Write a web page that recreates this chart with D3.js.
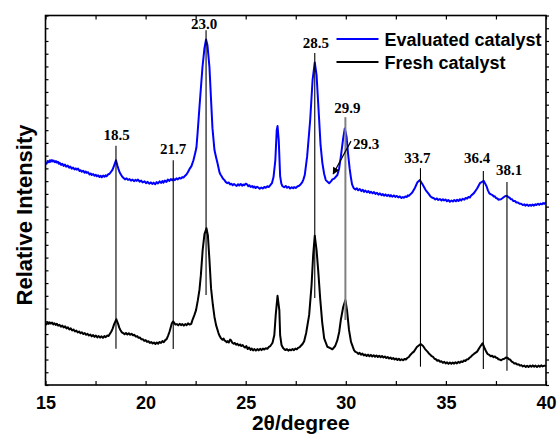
<!DOCTYPE html>
<meta charset="utf-8">
<style>
body { margin: 0; background: #fff; }
text { font-family: "Liberation Sans", Arial, sans-serif; }
.axis .domain { display: none; }
.axis line { stroke: #000; stroke-width: 1.2; }
.axis text { font-size: 18px; font-weight: bold; fill: #000; }
.peak { font-family: "Liberation Serif", "Times New Roman", serif; font-weight: bold; font-size: 15px; }
</style>
<svg width="558" height="435"></svg>
<script src="https://d3js.org/d3.v7.min.js"></script>
<script>

// 2theta (degree), relative intensity (noise included)
var evaluated = [[15.00,873],[15.05,868],[15.11,879],[15.17,874],[15.22,882],[15.26,876],[15.32,883],[15.37,877],[15.41,881],[15.47,874],[15.52,879],[15.56,873],[15.62,876],[15.67,868],[15.71,872],[15.78,864],[15.84,868],[15.91,860],[15.97,865],[16.03,857],[16.11,861],[16.18,853],[16.24,857],[16.31,849],[16.38,853],[16.45,846],[16.51,850],[16.56,845],[16.63,849],[16.70,840],[16.76,843],[16.81,837],[16.88,841],[16.95,833],[17.01,838],[17.06,832],[17.13,835],[17.20,826],[17.26,830],[17.31,824],[17.38,828],[17.45,821],[17.51,825],[17.56,819],[17.63,823],[17.70,816],[17.76,821],[17.81,815],[17.88,822],[17.95,817],[18.00,823],[18.05,819],[18.12,826],[18.20,829],[18.27,836],[18.35,845],[18.43,862],[18.52,882],
  [18.60,859],[18.65,846],[18.70,835],[18.78,824],[18.85,816],[18.90,812],[18.97,807],[19.05,811],[19.12,805],[19.20,808],[19.27,802],[19.35,806],[19.42,800],[19.50,805],[19.55,801],[19.62,806],[19.70,798],[19.78,802],[19.85,795],[19.95,799],[20.02,792],[20.10,797],[20.18,790],[20.26,795],[20.33,789],[20.40,794],[20.48,788],[20.55,796],[20.62,791],[20.70,799],[20.77,793],[20.84,800],[20.89,794],[20.96,802],[21.04,797],[21.11,806],[21.19,801],[21.26,808],[21.33,803],[21.39,809],[21.46,804],[21.54,811],[21.61,807],[21.69,813],[21.76,810],[21.83,816],[21.89,814],[21.96,820],[22.04,826],[22.11,835],[22.19,847],
  [22.29,859],[22.39,882],[22.49,914],[22.54,933],[22.60,992],[22.69,1090],[22.84,1247],[22.94,1322],[23.02,1356],[23.09,1333],[23.19,1247],[23.27,1118],[23.34,1008],[23.44,922],[23.52,894],[23.59,871],
  [23.69,835],[23.74,826],[23.79,820],[23.86,810],[23.94,804],[24.00,797],[24.08,792],[24.15,795],[24.22,787],[24.28,790],[24.35,784],[24.42,789],[24.48,785],[24.55,781],[24.62,788],[24.68,783],[24.75,789],[24.82,782],[24.88,787],[24.93,784],[25.00,790],[25.08,786],[25.13,780],[25.18,784],[25.25,777],[25.32,781],[25.38,775],[25.43,779],[25.50,773],[25.57,778],[25.63,775],[25.70,770],[25.78,775],[25.85,771],[25.93,777],[26.00,774],[26.08,780],[26.16,777],[26.23,784],[26.31,792],[26.39,816],
  [26.48,882],[26.55,1000],[26.59,1016],[26.65,961],
  [26.72,820],[26.78,790],[26.84,780],[26.92,776],[27.00,781],[27.07,774],[27.15,778],[27.22,771],[27.30,776],[27.37,772],[27.42,777],[27.50,773],[27.58,779],[27.67,782],[27.75,788],[27.82,795],[27.88,806],[27.95,824],
  [28.07,898],[28.22,1039],[28.34,1196],[28.45,1266],[28.54,1216],[28.67,1039],[28.74,941],[28.83,871],[28.92,828],[29.00,804],[29.17,792],[29.27,800],[29.33,807],[29.42,810],[29.58,824],[29.67,851],[29.75,895],[29.87,969],[29.95,1007],[30.04,973],[30.11,910],[30.19,851],[30.25,817],
  [30.31,788],[30.36,778],[30.41,771],[30.48,767],[30.55,772],[30.62,764],[30.70,769],[30.78,761],[30.85,766],[30.91,758],[30.98,763],[31.06,756],[31.13,761],[31.20,754],[31.26,758],[31.34,752],[31.41,757],[31.48,750],[31.56,754],[31.63,747],[31.70,752],[31.78,745],[31.85,749],[31.91,743],[31.98,748],[32.06,742],[32.13,746],[32.20,740],[32.25,745],[32.32,739],[32.40,744],[32.47,738],[32.55,742],[32.62,736],[32.70,740],[32.78,734],[32.85,738],[32.90,735],[32.97,740],[33.05,738],[33.10,744],[33.15,742],[33.22,748],[33.32,755],
  [33.45,773],[33.58,796],[33.70,804],[33.83,788],[33.99,765],
  [34.15,749],[34.22,741],[34.30,736],[34.40,733],[34.47,728],[34.55,732],[34.62,726],[34.70,730],[34.78,724],[34.85,729],[34.90,724],[34.98,728],[35.05,721],[35.12,726],[35.20,719],[35.28,724],[35.35,720],[35.42,726],[35.50,721],[35.56,727],[35.63,722],[35.70,729],[35.77,724],[35.84,731],[35.92,727],[35.99,734],[36.06,731],[36.13,738],[36.20,736],[36.25,743],
  [36.40,753],[36.56,771],[36.70,792],[36.89,801],
  [37.03,780],[37.10,764],[37.17,752],[37.25,748],[37.33,745],[37.38,740],[37.43,741],[37.50,734],[37.57,732],[37.62,727],[37.67,728],[37.75,729],[37.82,733],[37.87,736],[37.92,739],[38.00,742],[38.06,742],[38.12,737],[38.17,736],[38.24,729],[38.30,729],[38.37,722],[38.45,722],[38.52,716],[38.60,716],[38.68,711],[38.76,711],[38.84,706],[38.92,709],[38.97,704],[39.05,708],[39.12,703],[39.20,707],[39.26,703],[39.33,708],[39.40,704],[39.47,709],[39.52,706],[39.60,711],[39.66,707],[39.72,712],[39.80,709],[39.86,714],[39.92,711],[40.00,717]];

var fresh = [[15.00,242],[15.05,238],[15.10,245],[15.16,240],[15.21,246],[15.27,241],[15.33,245],[15.39,238],[15.45,242],[15.51,236],[15.57,240],[15.63,233],[15.70,236],[15.77,229],[15.84,233],[15.91,226],[15.98,230],[16.05,222],[16.12,226],[16.19,218],[16.26,222],[16.33,214],[16.40,218],[16.47,210],[16.54,214],[16.61,206],[16.68,210],[16.75,203],[16.82,207],[16.89,200],[16.96,204],[17.03,197],[17.10,201],[17.17,194],[17.24,198],[17.31,191],[17.38,196],[17.45,189],[17.52,194],[17.59,187],[17.66,192],[17.73,186],[17.80,191],[17.87,185],[17.94,192],[18.01,188],[18.08,194],[18.15,192],[18.22,201],[18.29,210],[18.35,220],[18.43,239],[18.54,258],
  [18.63,239],[18.68,226],[18.74,216],[18.81,207],[18.88,204],[18.95,199],[19.02,204],[19.09,198],[19.16,203],[19.23,197],[19.30,201],[19.37,195],[19.44,197],[19.51,190],[19.58,192],[19.65,185],[19.72,186],[19.79,179],[19.86,180],[19.93,173],[20.00,176],[20.07,169],[20.14,172],[20.21,165],[20.28,169],[20.35,163],[20.42,167],[20.49,161],[20.56,167],[20.63,162],[20.70,169],[20.77,165],[20.84,172],[20.91,168],[20.98,176],[21.05,180],[21.12,193],[21.19,208],[21.26,228],[21.31,242],[21.37,249],[21.42,245],[21.49,237],[21.56,239],[21.63,234],[21.70,240],[21.77,235],[21.84,239],[21.91,233],[21.98,239],[22.05,235],[22.12,242],[22.20,237],[22.28,240],
  [22.34,255],[22.44,275],[22.52,294],[22.61,333],[22.69,373],[22.76,431],[22.85,529],[22.94,592],[23.04,615],[23.11,588],[23.19,490],[23.27,379],[23.36,314],[23.44,267],[23.52,235],
  [23.64,204],[23.70,192],[23.77,183],[23.84,178],[23.90,182],[23.94,175],[24.00,172],[24.05,168],[24.10,172],[24.16,167],[24.22,178],[24.27,175],[24.33,166],[24.40,162],[24.46,165],[24.52,158],[24.58,162],[24.65,155],[24.72,159],[24.78,153],[24.85,157],[24.91,150],[24.97,147],[25.03,153],[25.10,141],[25.17,147],[25.24,138],[25.30,143],[25.37,136],[25.44,141],[25.51,135],[25.58,141],[25.65,136],[25.72,142],[25.79,137],[25.86,143],[25.93,139],[26.00,144],[26.08,142],[26.16,150],[26.23,153],[26.30,161],[26.34,166],
  [26.43,196],[26.50,275],[26.59,350],[26.68,294],[26.72,196],
  [26.79,157],[26.86,146],[26.92,141],[26.99,137],[27.06,141],[27.13,135],[27.20,139],[27.27,136],[27.34,141],[27.41,137],[27.48,143],[27.55,140],[27.62,146],[27.70,149],[27.77,155],[27.84,161],[27.92,172],
  [28.02,204],[28.17,275],[28.29,392],[28.37,510],[28.45,586],[28.54,529],[28.62,451],[28.72,340],[28.82,247],[28.92,183],[29.08,150],[29.25,144],[29.33,140],[29.47,153],[29.58,176],[29.67,208],[29.75,255],[29.87,306],[29.98,333],[30.06,294],[30.16,216],[30.26,169],
  [30.41,137],[30.48,130],[30.55,128],[30.62,122],[30.69,126],[30.76,119],[30.83,123],[30.90,116],[30.97,120],[31.04,114],[31.11,119],[31.18,113],[31.25,118],[31.32,112],[31.39,117],[31.46,111],[31.53,116],[31.60,110],[31.67,115],[31.74,109],[31.81,114],[31.88,108],[31.95,112],[32.02,106],[32.09,110],[32.16,104],[32.23,108],[32.30,102],[32.37,106],[32.44,100],[32.51,104],[32.58,98],[32.65,103],[32.72,97],[32.79,101],[32.86,97],[32.93,102],[33.00,100],[33.07,106],[33.15,110],[33.22,118],[33.32,126],
  [33.40,131],[33.55,149],[33.74,161],[33.86,153],[33.96,141],
  [34.08,131],[34.15,124],[34.22,119],[34.29,113],[34.36,110],[34.43,103],[34.50,101],[34.57,95],[34.64,97],[34.71,91],[34.78,93],[34.85,87],[34.92,91],[34.99,85],[35.06,89],[35.13,83],[35.20,88],[35.27,83],[35.34,88],[35.41,84],[35.48,89],[35.55,85],[35.62,91],[35.69,87],[35.76,93],[35.83,90],[35.90,96],[35.97,94],[36.04,100],[36.11,101],[36.18,107],[36.25,111],[36.32,117],[36.40,122],
  [36.56,131],[36.70,149],[36.83,164],
  [36.95,141],[37.02,130],[37.09,121],[37.17,118],[37.24,113],[37.31,115],[37.38,109],[37.45,112],[37.51,107],[37.57,106],[37.62,101],[37.69,100],[37.76,97],[37.83,101],[37.92,103],[38.00,108],[38.09,106],[38.15,101],[38.22,99],[38.29,92],[38.36,89],[38.42,84],[38.49,85],[38.56,80],[38.63,81],[38.70,76],[38.77,78],[38.84,73],[38.92,76],[38.99,71],[39.06,75],[39.13,71],[39.20,76],[39.27,72],[39.34,77],[39.41,72],[39.48,76],[39.55,71],[39.62,76],[39.69,72],[39.76,77],[39.83,73],[39.92,76],[40.00,74]];

// peak markers
var peakLabels = ["18.5", "21.7", "23.0", "28.5", "29.9", "33.7", "36.4", "38.1"];
var peakLineTheta = [18.52, 21.38, 23.02, 28.45, 29.98, 33.73, 36.87, 38.05];
var peakLineTop = [939, 882, 1392, 1303, 1051, 851, 840, 797];
var peakLineBottom = [142, 141, 353, 341, 255, 72, 63, 56];
var peakLabelAt = [[18.55, 961], [21.38, 906], [22.92, 1398], [28.50, 1321], [30.08, 1066], [33.57, 873], [36.56, 870], [38.16, 824]];
// shoulder at 29.3 marked with an arrow
var arrowLabel = "29.3";
var arrowFrom = [30.26, 957], arrowTo = [29.37, 828], arrowLabelAt = [30.36, 928];

var xTicks = d3.range(15, 40.01, 2.5);
var yTicks = d3.range(0, 1451, 50);
var seriesNames = ["Evaluated catalyst", "Fresh catalyst"];
var seriesColors = ["#0000ff", "#000000"];

var svg = d3.select("svg"),
    margin = {top: 15.5, right: 12, bottom: 50, left: 45.5},
    width = +svg.attr("width") - margin.left - margin.right,
    height = +svg.attr("height") - margin.top - margin.bottom,
    g = svg.append("g").attr("transform", "translate(" + margin.left + "," + margin.top + ")");

var x = d3.scaleLinear().domain([15, 40]).range([0, width]);
var y = d3.scaleLinear().domain([0, 1450]).range([height, 0]);

g.append("clipPath").attr("id", "clip")
  .append("rect").attr("width", width).attr("height", height);

var line = d3.line()
    .x(function(d) { return x(d[0]); })
    .y(function(d) { return y(d[1]); });

[evaluated, fresh].forEach(function(s, i) {
  g.append("path")
      .datum(s)
      .attr("clip-path", "url(#clip)")
      .attr("fill", "none")
      .attr("stroke", seriesColors[i])
      .attr("stroke-width", 2)
      .attr("stroke-linejoin", "round")
      .attr("d", line);
});

// axes
g.append("g")
    .attr("class", "axis")
    .attr("transform", "translate(0," + height + ")")
    .call(d3.axisBottom(x).tickValues(xTicks).tickSizeInner(-4).tickSizeOuter(0)
      .tickFormat(function(d) { return d % 5 === 0 ? d : ""; }))
  .selectAll("text")
    .attr("y", 11).attr("dy", "0.71em");

g.append("g")
    .attr("class", "axis")
    .call(d3.axisTop(x).tickValues(xTicks).tickSizeInner(-4).tickSizeOuter(0).tickFormat(""));

g.append("g")
    .attr("class", "axis")
    .call(d3.axisLeft(y).tickValues(yTicks).tickSizeInner(-3).tickSizeOuter(0).tickFormat(""));

g.append("g")
    .attr("class", "axis")
    .attr("transform", "translate(" + width + ",0)")
    .call(d3.axisRight(y).tickValues(yTicks).tickSizeInner(3).tickSizeOuter(0).tickFormat(""));

g.append("rect")
    .attr("width", width)
    .attr("height", height)
    .attr("fill", "none")
    .attr("stroke", "#000")
    .attr("stroke-width", 1.6);

// peak lines and labels
peakLabels.forEach(function(lab, i) {
  g.append("line")
      .attr("x1", x(peakLineTheta[i])).attr("x2", x(peakLineTheta[i]))
      .attr("y1", y(peakLineTop[i])).attr("y2", y(peakLineBottom[i]))
      .attr("stroke", lab === "29.9" ? "#808080" : "#000")
      .attr("stroke-width", lab === "29.9" ? 2 : 1.1);
  g.append("text")
      .attr("class", "peak")
      .attr("x", x(peakLabelAt[i][0]))
      .attr("y", y(peakLabelAt[i][1]))
      .attr("text-anchor", "middle")
      .text(lab);
});

svg.append("defs").append("marker")
    .attr("id", "arrow")
    .attr("viewBox", "0 0 10 10")
    .attr("refX", 9).attr("refY", 5)
    .attr("markerWidth", 9).attr("markerHeight", 7)
    .attr("markerUnits", "userSpaceOnUse")
    .attr("orient", "auto")
  .append("path").attr("d", "M0,0L10,5L0,10z").attr("fill", "#000");

g.append("line")
    .attr("x1", x(arrowFrom[0])).attr("y1", y(arrowFrom[1]))
    .attr("x2", x(arrowTo[0])).attr("y2", y(arrowTo[1]))
    .attr("stroke", "#000").attr("stroke-width", 1.2)
    .attr("marker-end", "url(#arrow)");

g.append("text")
    .attr("class", "peak")
    .attr("x", x(arrowLabelAt[0]))
    .attr("y", y(arrowLabelAt[1]))
    .attr("text-anchor", "start")
    .text(arrowLabel);

// legend
var legend = g.selectAll(".legend")
    .data(seriesNames)
  .enter().append("g")
    .attr("class", "legend")
    .attr("transform", function(d, i) { return "translate(291," + (23.5 + i * 23) + ")"; });

legend.append("line")
    .attr("x1", 0).attr("x2", 42)
    .attr("stroke", function(d, i) { return seriesColors[i]; })
    .attr("stroke-width", 2);

legend.append("text")
    .attr("x", 48)
    .attr("y", 6.5)
    .style("font-size", "18px")
    .style("font-weight", "bold")
    .text(function(d) { return d; });

// axis titles
svg.append("text")
    .attr("x", margin.left + width / 2 + 5)
    .attr("y", 430)
    .attr("text-anchor", "middle")
    .style("font-size", "21px")
    .style("font-weight", "bold")
    .text("2θ/degree");

svg.append("text")
    .attr("transform", "translate(32,215) rotate(-90)")
    .attr("text-anchor", "middle")
    .style("font-size", "22px")
    .style("font-weight", "bold")
    .text("Relative Intensity");

</script>
